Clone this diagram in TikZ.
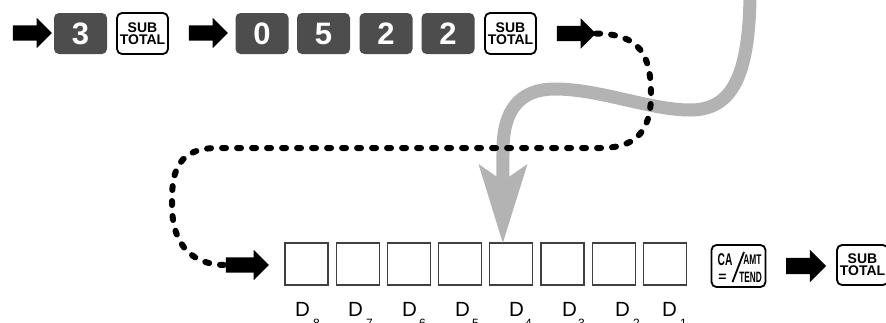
\documentclass[tikz,border=0pt]{standalone}
\usepackage{fontspec}
\setmainfont{Liberation Sans}
\usepackage{graphicx}
\usetikzlibrary{positioning}
\usetikzlibrary{shapes.arrows}
\usetikzlibrary{arrows.meta}

\definecolor{keydark}{RGB}{77,77,77}
\definecolor{pathgray}{RGB}{179,179,179}
\definecolor{boxline}{RGB}{64,64,64}

\newcommand{\dsub}[2][2pt]{D\kern#1\raisebox{-11pt}{\fontsize{12pt}{12pt}\selectfont #2}}

\tikzset{
numkey/.style={rectangle,rounded corners=5pt,fill=keydark,text=white,minimum width=53pt,minimum height=41pt,inner sep=0pt,font=\fontsize{31pt}{31pt}\selectfont\bfseries},
subkey/.style={rectangle,rounded corners=5pt,draw=black,line width=1.8pt,fill=white,minimum width=51pt,minimum height=41pt,inner sep=0pt,align=center,font=\fontsize{14pt}{12pt}\selectfont\bfseries},
blockarrow/.style={single arrow,fill=black,draw=none,inner sep=0pt,text height=15pt,text depth=0pt,single arrow head extend=7.5pt,minimum height=39pt},
digitbox/.style={rectangle,draw=boxline,line width=1.3pt,minimum width=43pt,minimum height=42pt,inner sep=0pt,outer sep=0pt},
dlabel/.style={anchor=base west,inner sep=0pt,font=\fontsize{20.5pt}{20.5pt}\selectfont},
keytext/.style={inner sep=0pt,font=\fontsize{#1}{#1}\selectfont\bfseries},
dashpath/.style={black,line width=6pt,line cap=round,dash pattern=on 4pt off 11pt}
}

\begin{document}
\begin{tikzpicture}[x=1pt,y=-1pt]
\useasboundingbox (0,0) rectangle (886,322);
\clip (0,0) rectangle (886,322);

% top row: keys pressed
\node (a1) [blockarrow] at (28.5,33) {};
\node (k3) [numkey] at (80.5,33.5) {3};
\node (st1) [subkey] at (142.5,33.5) {SUB\\TOTAL};
\node (a2) [blockarrow] at (204.5,33) {};
\node (k0) [numkey] at (262,33.5) {0};
\node (k5) [numkey] at (323.5,33.5) {5};
\node (k2a) [numkey] at (386,33.5) {2};
\node (k2b) [numkey] at (448,33.5) {2};
\node (st2) [subkey] at (510.5,33.5) {SUB\\TOTAL};
\node (a3) [blockarrow] at (572.5,33.5) {};

% bottom row: digit places
\node (a4) [blockarrow,minimum height=43pt] at (243.5,265) {};
\node (b8) [digitbox] at (306.5,264) {};
\node (b7) [digitbox,right=8.2pt of b8] {};
\node (b6) [digitbox,right=8.2pt of b7] {};
\node (b5) [digitbox,right=8.2pt of b6] {};
\node (b4) [digitbox,right=8.2pt of b5] {};
\node (b3) [digitbox,right=8.2pt of b4] {};
\node (b2) [digitbox,right=8.2pt of b3] {};
\node (b1) [digitbox,right=8.2pt of b2] {};

\node (d8) [dlabel] at (295,316) {\dsub[3pt]{8}};
\node (d7) [dlabel] at (348,316) {\dsub[3pt]{7}};
\node (d6) [dlabel] at (402,316) {\dsub[2pt]{6}};
\node (d5) [dlabel] at (455,316) {\dsub[2pt]{5}};
\node (d4) [dlabel] at (509,316) {\dsub[1pt]{4}};
\node (d3) [dlabel] at (562,316) {\dsub[1pt]{3}};
\node (d2) [dlabel] at (615,316) {\dsub[3pt]{2}};
\node (d1) [dlabel] at (662,316) {\dsub[3pt]{1}};

\node (ca) [subkey,minimum width=54pt,minimum height=42pt] at (738.5,266) {};
\node (ca-t1) [keytext=17pt] at (725,260) {\scalebox{0.6}[1]{CA}};
\node (ca-t2) [keytext=14pt] at (752.5,259.5) {\scalebox{0.6}[1]{AMT}};
\node (ca-t3) [keytext=14pt,anchor=base] at (722.5,281) {=};
\node (ca-t4) [keytext=15pt] at (750.5,277.5) {\scalebox{0.55}[1]{TEND}};
\draw[line width=1.8pt] (732.5,282) -- (744,252);

\node (a5) [blockarrow,minimum height=40pt,text height=16pt,single arrow head extend=8pt] at (802,266) {};
\node (st3) [subkey,minimum height=40pt] at (862.5,265) {SUB\\TOTAL};

% gray path down to D4
\draw[pathgray,line width=13pt,-{Stealth[length=79pt,width=49pt,inset=17pt,line width=0pt]}] (750,-10) .. controls (750,80) and (730,110) .. (690,110) .. controls (650,110) and (600,89) .. (555,89) .. controls (518,89) and (503,112) .. (503,150) -- ([xshift=-8.5pt]b4.north);

% dashed jump
\draw[dashpath] (a3.tip) .. controls (640,34) and (651,55) .. (651,95) .. controls (651,135) and (632,148) .. (600,148) -- (217,148) .. controls (172,148) and (172,180) .. (172,205) .. controls (172,248) and (195,265) .. (a4.tail);
\end{tikzpicture}
\end{document}
